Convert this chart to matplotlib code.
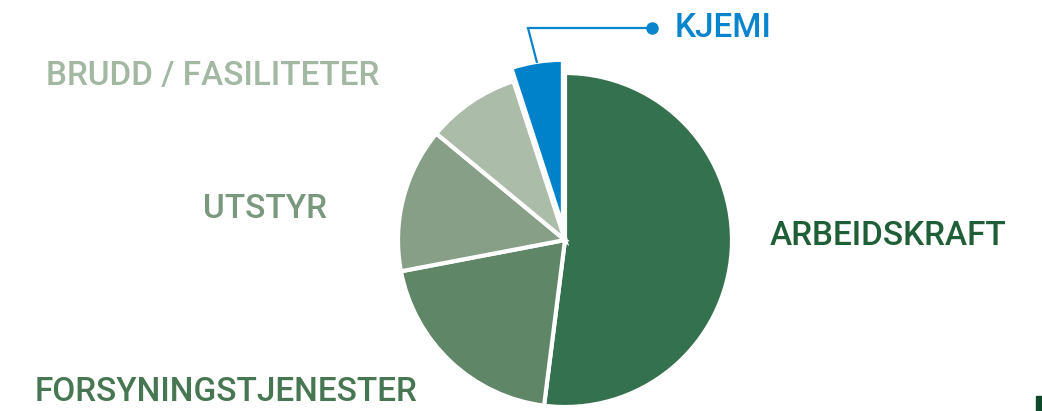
import numpy as np
import matplotlib
matplotlib.use("Agg")
import matplotlib.pyplot as plt
from matplotlib.patches import Rectangle

# kostnadsfordeling (prosent), lest av figuren
labels = ['ARBEIDSKRAFT', 'FORSYNINGSTJENESTER', 'UTSTYR', 'BRUDD / FASILITETER', 'KJEMI']
values = [52, 20, 14, 9, 5]
explode = [0, 0, 0, 0, 0.08]

wedge_colors = ['#34714e', '#5f8767', '#869f86', '#abbca9', '#0082ca']
text_colors = ['#1f5f37', '#477752', '#7a987e', '#a3b8a2', '#0a84cc']
# label positions in pixels (x, y from top)
label_pos = [(770, 236), (35, 392), (203, 209), (46, 76), (675, 28)]

W, H = 1042, 411
fig = plt.figure(figsize=(W / 100, H / 100), dpi=100)
ax = fig.add_axes([0, 0, 1, 1])

cx, cy, r = 565, H - 240, 167
# pie() explode is in data units, so scale by radius
wedges, _ = ax.pie(values, colors=wedge_colors, startangle=90, counterclock=False,
                   explode=[e * r for e in explode], radius=r, center=(cx, cy),
                   frame=True, wedgeprops=dict(edgecolor='white', linewidth=3))
ax.set_xlim(0, W)
ax.set_ylim(0, H)
ax.set_aspect('equal')
ax.axis('off')

for lab, col, (x, y) in zip(labels, text_colors, label_pos):
    ax.text(x, H - y, lab, color=col, fontsize=24, family='Roboto',
            fontweight='medium', ha='left', va='center')

# leader line for KJEMI
w = wedges[-1]
mid = np.deg2rad((w.theta1 + w.theta2) / 2)
wx, wy = w.center
px, py = wx + w.r * np.cos(mid), wy + w.r * np.sin(mid)
ax.plot([px, 528, 652], [py, H - 28, H - 28], color='#0a84cc', lw=1.6,
        solid_joinstyle='miter')
ax.plot(652, H - 28, 'o', color='#0a84cc', ms=8)

ax.add_patch(Rectangle((1036, 0), 6, 15, color='#0e4a2a'))

fig.savefig('out.png', dpi=100)
